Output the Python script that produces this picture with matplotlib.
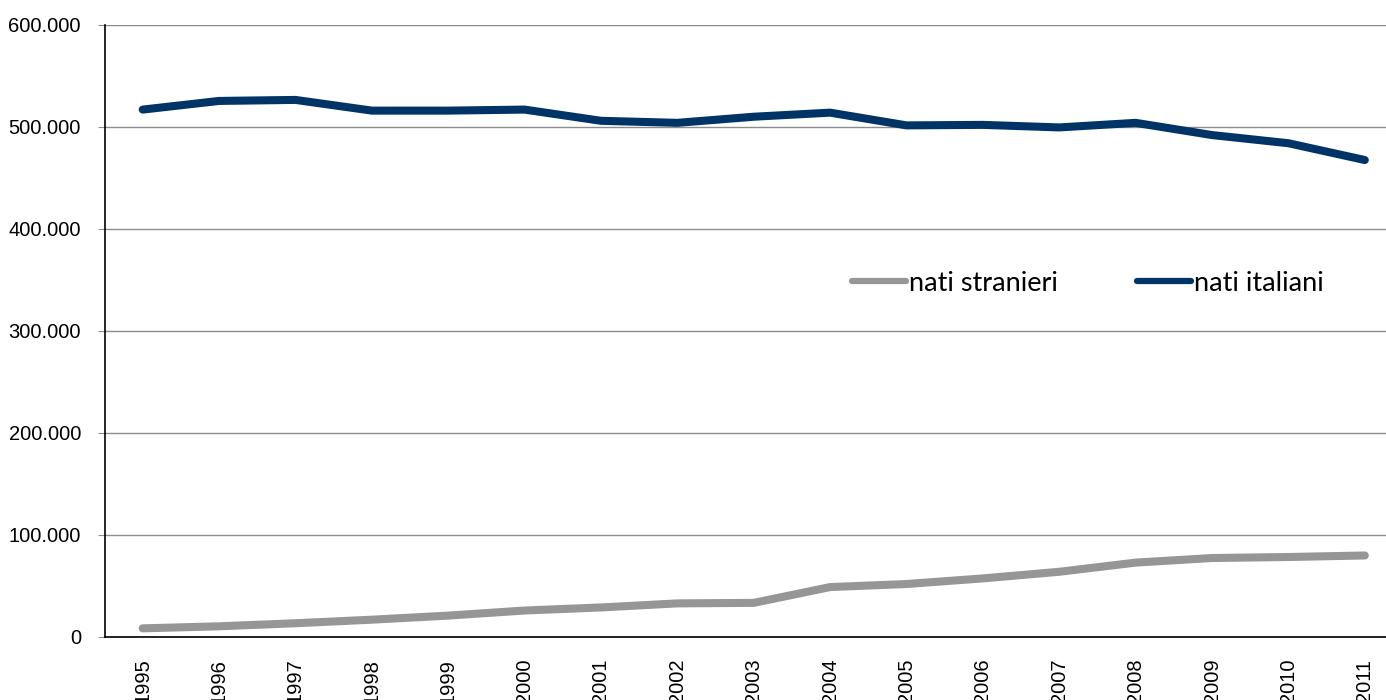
import matplotlib
matplotlib.use("Agg")
import matplotlib.pyplot as plt
from matplotlib.ticker import FuncFormatter, MultipleLocator

years = ["1995", "1996", "1997", "1998", "1999", "2000", "2001", "2002", "2003",
         "2004", "2005", "2006", "2007", "2008", "2009", "2010", "2011"]
nati_italiani = [517000, 525500, 526500, 516000, 516000, 517000, 506000, 504000, 510000,
                 514000, 501500, 502000, 499500, 504000, 492000, 484000, 467500]
nati_stranieri = [8000, 10000, 13000, 16500, 20500, 25500, 28500, 32500, 33000,
                  48500, 51500, 57000, 63500, 72500, 77000, 78000, 79500]

fig = plt.figure(figsize=(13.86, 7.0), dpi=100)
ax = fig.add_axes([104.5 / 1386, 63.5 / 700, (1403 - 104.5) / 1386, 611.5 / 700])

x = list(range(len(years)))
l1, = ax.plot(x, nati_stranieri, color="#969696", lw=5.8, solid_capstyle="round",
              solid_joinstyle="round", label="nati stranieri")
l2, = ax.plot(x, nati_italiani, color="#003366", lw=5.8, solid_capstyle="round",
              solid_joinstyle="round", label="nati italiani")

ax.set_xlim(-0.5, len(years) - 0.5)
ax.set_ylim(0, 600000)
ax.yaxis.set_major_locator(MultipleLocator(100000))
ax.yaxis.set_major_formatter(FuncFormatter(lambda v, p: f"{int(v):,}".replace(",", ".")))
ax.grid(axis="y", color="#8c8c8c", lw=1.0)
ax.set_axisbelow(True)

ax.set_xticks(x)
ax.set_xticklabels(years, rotation=90, fontsize=14.5, family=["Liberation Sans", "DejaVu Sans"])
for lab in ax.get_yticklabels():
    lab.set_family(["Liberation Sans", "DejaVu Sans"])
    lab.set_fontsize(14.5)
ax.tick_params(axis="x", length=0, pad=16)
ax.tick_params(axis="y", length=5, color="#8c8c8c", pad=12)

for s in ["top", "right"]:
    ax.spines[s].set_visible(False)
ax.spines["left"].set_color("black")
ax.spines["bottom"].set_color("black")
ax.spines["left"].set_linewidth(1.2)
ax.spines["bottom"].set_linewidth(1.2)

leg = fig.legend(handles=[l1, l2], loc="center", ncol=2,
                 bbox_to_anchor=(1088 / 1386, 1 - 283 / 700), bbox_transform=fig.transFigure,
                 frameon=False, prop={"family": ["Lato", "DejaVu Sans"], "size": 19.5},
                 handlelength=2.0, handletextpad=0.12, columnspacing=2.9)
for h in leg.get_lines():
    h.set_linewidth(4.5)

fig.savefig("out.png", dpi=100)
